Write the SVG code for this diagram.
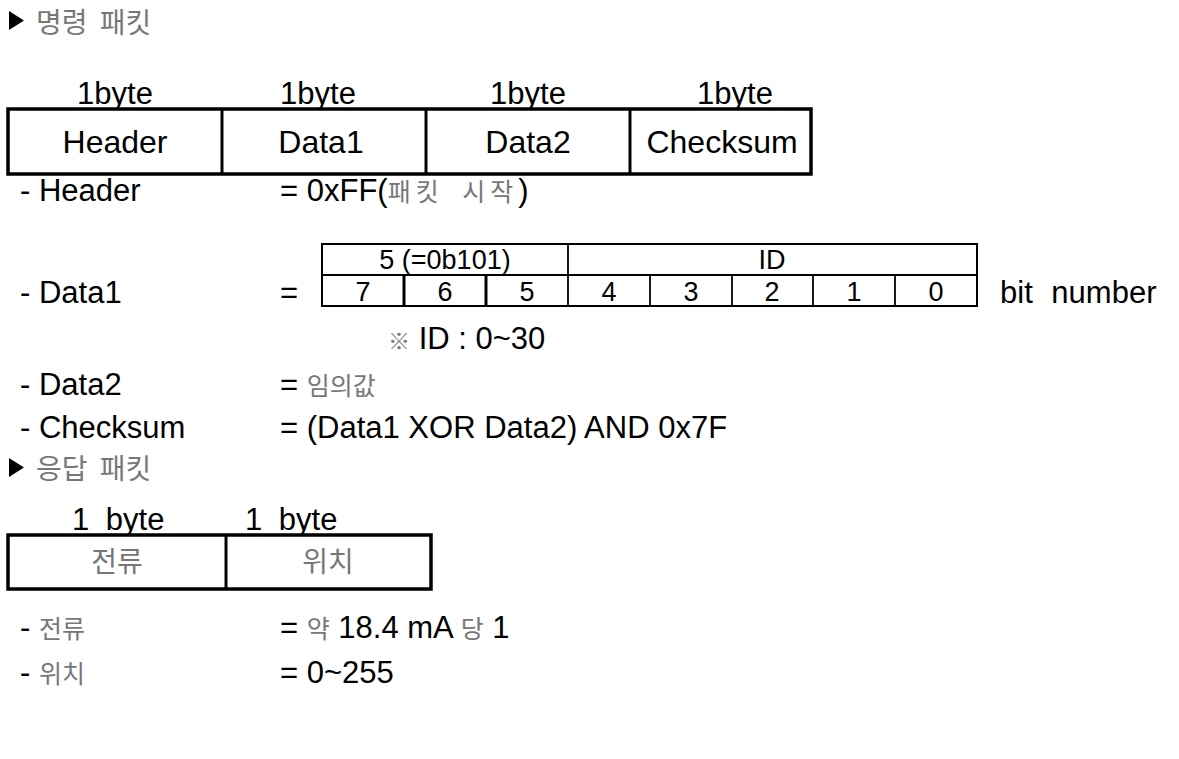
<svg xmlns="http://www.w3.org/2000/svg" width="1179" height="759" viewBox="0 0 1179 759">
  <style>
    .t { font-family: "Liberation Sans", Arial, sans-serif; font-size: 31px; fill: #000; }
    .b { font-size: 32px; }
    .n { font-size: 27px; }
    .c { text-anchor: middle; }
    .k { font-family: "Noto Sans CJK KR", "Noto Sans", sans-serif; fill: #777; }
    .h { font-size: 28px; }
    .kl { font-size: 28px; }
    .box { fill: #fff; stroke: #000; stroke-width: 3.5; }
    .cell { fill: none; stroke: #000; stroke-width: 2; }
    .div { stroke: #000; stroke-width: 3; }
    .thin { stroke: #000; stroke-width: 1.8; }
  </style>
  <rect width="1179" height="759" fill="#fff"/>

  <!-- Command packet heading -->
  <g id="title-command">
    <polygon points="9,11 9,30 24,20.5" fill="#000"/>
    <text class="t k h" x="36" y="33" word-spacing="6">명령 패킷</text>
  </g>

  <!-- Command packet frame -->
  <g id="command-packet">
    <text class="t c" x="115" y="104">1byte</text>
    <text class="t c" x="318" y="104">1byte</text>
    <text class="t c" x="528" y="104">1byte</text>
    <text class="t c" x="735" y="104">1byte</text>
    <rect class="box" x="8" y="109" width="803" height="65"/>
    <line class="div" x1="222" y1="109" x2="222" y2="174"/>
    <line class="div" x1="426" y1="109" x2="426" y2="174"/>
    <line class="div" x1="630" y1="109" x2="630" y2="174"/>
    <text class="t b c" x="115" y="153">Header</text>
    <text class="t b c" x="321" y="153">Data1</text>
    <text class="t b c" x="528" y="153">Data2</text>
    <text class="t b c" x="722" y="153">Checksum</text>
  </g>

  <!-- Field descriptions -->
  <g id="desc-header">
    <text class="t" x="20" y="201">- Header</text>
    <text class="t" x="280" y="201">= 0xFF(<tspan class="k" font-size="25" letter-spacing="5" word-spacing="8">패킷 시작</tspan>)</text>
  </g>

  <g id="desc-data1">
    <text class="t" x="20" y="303">- Data1</text>
    <text class="t" x="280" y="303">=</text>
  </g>

  <!-- Data1 bit layout -->
  <g id="bit-table">
    <rect class="cell" x="322" y="244" width="655" height="62"/>
    <line class="thin" x1="322" y1="275" x2="977" y2="275"/>
    <line class="thin" x1="568" y1="244" x2="568" y2="306"/>
    <line class="div" x1="404" y1="275" x2="404" y2="306"/>
    <line class="div" x1="486" y1="275" x2="486" y2="306"/>
    <line class="thin" x1="650" y1="275" x2="650" y2="306"/>
    <line class="thin" x1="732" y1="275" x2="732" y2="306"/>
    <line class="thin" x1="813" y1="275" x2="813" y2="306"/>
    <line class="thin" x1="895" y1="275" x2="895" y2="306"/>
    <text class="t n c" x="445" y="269">5 (=0b101)</text>
    <text class="t n c" x="772" y="269">ID</text>
    <text class="t n c" x="363" y="301">7</text>
    <text class="t n c" x="445" y="301">6</text>
    <text class="t n c" x="527" y="301">5</text>
    <text class="t n c" x="609" y="301">4</text>
    <text class="t n c" x="691" y="301">3</text>
    <text class="t n c" x="772" y="301">2</text>
    <text class="t n c" x="854" y="301">1</text>
    <text class="t n c" x="936" y="301">0</text>
    <text class="t" x="1000" y="303" word-spacing="10">bit number</text>
  </g>

  <g id="note-id">
    <text class="t" x="388" y="349"><tspan class="k" font-size="22">※</tspan> ID : 0~30</text>
  </g>

  <g id="desc-data2">
    <text class="t" x="20" y="395">- Data2</text>
    <text class="t" x="280" y="395">= <tspan class="k" font-size="25">임의값</tspan></text>
  </g>

  <g id="desc-checksum">
    <text class="t" x="20" y="438">- Checksum</text>
    <text class="t" x="280" y="438">= (Data1 XOR Data2) AND 0x7F</text>
  </g>

  <!-- Response packet heading -->
  <g id="title-response">
    <polygon points="9,458 9,477 24,467.5" fill="#000"/>
    <text class="t k h" x="36" y="479" word-spacing="6">응답 패킷</text>
  </g>

  <!-- Response packet frame -->
  <g id="response-packet">
    <text class="t" x="72" y="530" word-spacing="8">1 byte</text>
    <text class="t" x="245" y="530" word-spacing="8">1 byte</text>
    <rect class="box" x="8" y="535" width="423" height="54"/>
    <line class="div" x1="226" y1="535" x2="226" y2="589"/>
    <text class="t c k kl" x="117" y="572">전류</text>
    <text class="t c k kl" x="328" y="572">위치</text>
  </g>

  <g id="desc-current">
    <text class="t" x="20" y="638">- <tspan class="k" font-size="25">전류</tspan></text>
    <text class="t" x="280" y="638">= <tspan class="k" font-size="25">약</tspan> 18.4 mA <tspan class="k" font-size="25">당</tspan> 1</text>
  </g>

  <g id="desc-position">
    <text class="t" x="20" y="683">- <tspan class="k" font-size="25">위치</tspan></text>
    <text class="t" x="280" y="683">= 0~255</text>
  </g>
</svg>
